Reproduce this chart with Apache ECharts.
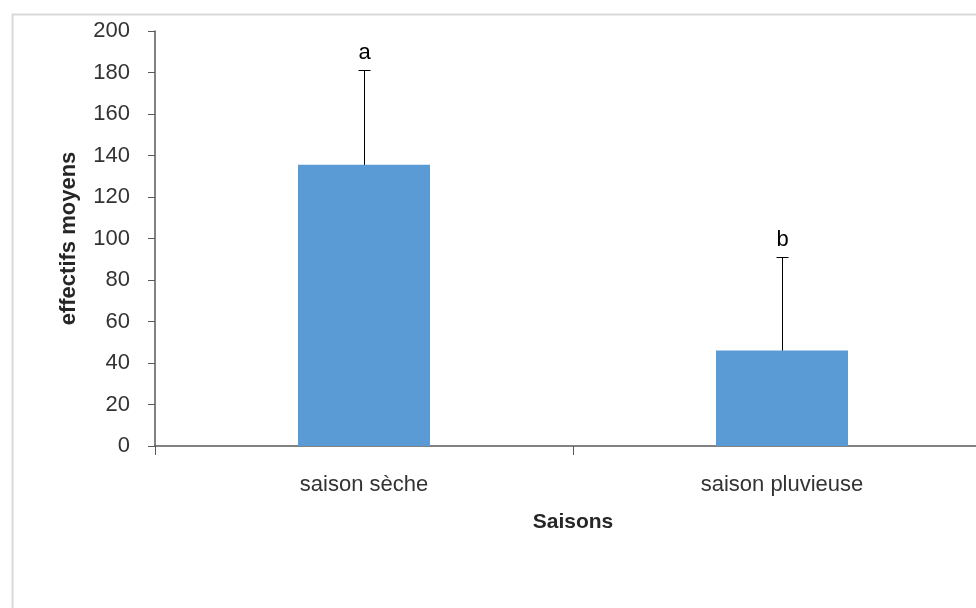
<!DOCTYPE html>
<html><head><meta charset="utf-8">
<script src="https://cdn.jsdelivr.net/npm/echarts@6/dist/echarts.min.js"></script>
<style>html,body{margin:0;padding:0;background:#fff}#c{width:976px;height:608px}</style>
</head><body><div id="c"></div>
<script>
var categories = ['saison sèche', 'saison pluvieuse'];
var means = [135.5, 46];
var upper = [181, 91];
var letters = ['a', 'b'];
var yTicks = [0, 200, 20];

var FONT = '"Liberation Sans", Arial, sans-serif';
var chart = echarts.init(document.getElementById('c'));
var errData = categories.map(function (c, i) { return [i, means[i], upper[i], letters[i]]; });

chart.setOption({
  animation: false,
  backgroundColor: '#fff',
  graphic: [{
    type: 'rect', left: 10, top: 12, silent: true,
    shape: { x: 0, y: 0, width: 1100, height: 800 },
    style: { fill: 'none', stroke: '#d9d9d9', lineWidth: 2 }
  }],
  grid: { left: 155, top: 31, height: 415, width: 836, containLabel: false, outerBoundsMode: 'none' },
  xAxis: {
    type: 'category', data: categories,
    name: 'Saisons', nameLocation: 'middle', nameGap: 66,
    nameTextStyle: { fontFamily: FONT, fontSize: 21, fontWeight: 'bold', color: '#262626' },
    axisLine: { lineStyle: { color: '#595959', width: 1.5 } },
    axisTick: { show: true, length: 9, alignWithLabel: false, lineStyle: { color: '#595959' } },
    axisLabel: { fontFamily: FONT, fontSize: 22, color: '#333', margin: 28 }
  },
  yAxis: {
    type: 'value', min: yTicks[0], max: yTicks[1], interval: yTicks[2],
    name: 'effectifs moyens', nameLocation: 'middle', nameGap: 75, nameRotate: 90,
    nameTextStyle: { fontFamily: FONT, fontSize: 22, fontWeight: 'bold', color: '#262626' },
    axisLine: { show: true, lineStyle: { color: '#595959', width: 1.5 } },
    axisTick: { show: true, length: 7, lineStyle: { color: '#595959' } },
    splitLine: { show: false },
    axisLabel: { fontFamily: FONT, fontSize: 22, color: '#333', margin: 25 }
  },
  series: [{
    type: 'bar', data: means, barWidth: 132,
    itemStyle: { color: '#5b9bd5' }
  }, {
    type: 'custom', data: errData, z: 5,
    encode: { x: 0, y: [1, 2] },
    renderItem: function (params, api) {
      var i = api.value(0);
      var p0 = api.coord([i, api.value(1)]);
      var p1 = api.coord([i, api.value(2)]);
      var x = Math.round(p0[0]) + 0.5;
      var yTop = Math.round(p1[1]) + 0.5;
      return {
        type: 'group',
        children: [
          { type: 'line', shape: { x1: x, y1: p0[1], x2: x, y2: yTop }, style: { stroke: '#000', lineWidth: 1 } },
          { type: 'line', shape: { x1: x - 6, y1: yTop, x2: x + 6, y2: yTop }, style: { stroke: '#000', lineWidth: 1 } },
          { type: 'text', style: { text: letters[params.dataIndex], x: x, y: yTop - 7,
              align: 'center', verticalAlign: 'bottom', textAlign: 'center', textVerticalAlign: 'bottom',
              fontFamily: FONT, fontSize: 22, fill: '#000' } }
        ]
      };
    }
  }]
});
</script></body></html>
